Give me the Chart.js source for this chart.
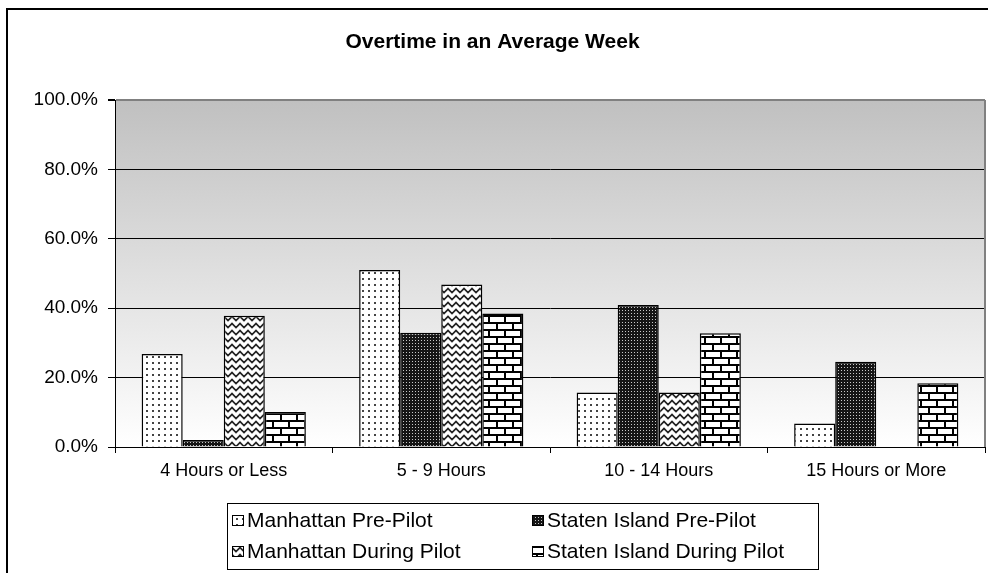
<!DOCTYPE html>
<html>
<head>
<meta charset="utf-8">
<script src="https://cdn.jsdelivr.net/npm/chart.js@4.4.1/dist/chart.umd.min.js"></script>
<style>
  html, body { margin: 0; padding: 0; background: #fff; }
  #wrap { width: 988px; height: 573px; position: relative; }
</style>
</head>
<body>
<div id="wrap"><canvas id="chart" width="988" height="573"></canvas></div>
<script>
// ---- data ----
const categories = ['4 Hours or Less', '5 - 9 Hours', '10 - 14 Hours', '15 Hours or More'];
const seriesNames = ['Manhattan Pre-Pilot', 'Staten Island Pre-Pilot', 'Manhattan During Pilot', 'Staten Island During Pilot'];
const manhattanPre = [26.8, 51.0, 15.7, 6.8];
const statenPre = [2.0, 32.9, 40.9, 24.6];
const manhattanDuring = [37.8, 46.8, 15.7, 0];
const statenDuring = [10.1, 38.5, 32.8, 18.4];
const yTicks = [0, 20, 40, 60, 80, 100];

const FONT = '"Liberation Sans", Arial, sans-serif';

// ---- 填充圖樣 ----
function makeTile(w, h, draw) {
    const c = document.createElement('canvas');
    c.width = w; c.height = h;
    const g = c.getContext('2d');
    draw(g);
    return document.getElementById('chart').getContext('2d').createPattern(c, 'repeat');
}

const dotPattern = makeTile(6, 6, g => {
    g.fillStyle = '#fff'; g.fillRect(0, 0, 6, 6);
    g.fillStyle = '#444'; g.fillRect(2, 2, 2, 2);
});
const checkPattern = makeTile(3, 3, g => {
    g.fillStyle = '#151515'; g.fillRect(0, 0, 3, 3);
    g.fillStyle = '#c8c8c8'; g.fillRect(1, 1, 1, 1);
});
const wavePattern = makeTile(8, 7, g => {
    g.fillStyle = '#fff'; g.fillRect(0, 0, 8, 7);
    g.strokeStyle = '#222'; g.lineWidth = 1.6;
    g.beginPath();
    g.moveTo(-4, 5.5); g.lineTo(0, 1.5); g.lineTo(4, 5.5); g.lineTo(8, 1.5); g.lineTo(12, 5.5);
    g.stroke();
});
const brickPattern = makeTile(16, 14, g => {
    g.fillStyle = '#fff'; g.fillRect(0, 0, 16, 14);
    g.fillStyle = '#000';
    g.fillRect(0, 0, 16, 2);
    g.fillRect(0, 7, 16, 2);
    g.fillRect(0, 0, 2, 7);
    g.fillRect(8, 7, 2, 7);
});
const patterns = [dotPattern, checkPattern, wavePattern, brickPattern];
const seriesValues = [manhattanPre, statenPre, manhattanDuring, statenDuring];

// ---- 背景漸層、外框、圖例 ----
const decorPlugin = {
    id: 'decor',
    beforeDraw(chart) {
        const { ctx, chartArea: a } = chart;
        ctx.save();
        const grad = ctx.createLinearGradient(0, a.top, 0, a.bottom);
        grad.addColorStop(0, '#c0c0c0');
        grad.addColorStop(1, '#ffffff');
        ctx.fillStyle = grad;
        ctx.fillRect(a.left, a.top, a.right - a.left, a.bottom - a.top);
        ctx.restore();
    },
    afterDraw(chart) {
        const { ctx, chartArea: a } = chart;
        ctx.save();
        // 繪圖區右側灰邊
        ctx.strokeStyle = '#808080';
        ctx.lineWidth = 2;
        ctx.beginPath();
        ctx.moveTo(a.right, a.top);
        ctx.lineTo(a.right, a.bottom);
        ctx.stroke();
        // 外框
        ctx.strokeStyle = '#000';
        ctx.lineWidth = 2;
        ctx.strokeRect(7, 9, 1100, 700);
        // 圖例
        ctx.lineWidth = 1;
        ctx.strokeStyle = '#000';
        ctx.strokeRect(227.5, 503.5, 591, 66);
        ctx.font = '21px ' + FONT;
        ctx.textBaseline = 'middle';
        chart.data.datasets.forEach((ds, i) => {
            const x = 232 + (i % 2) * 300;
            const y = 520 + Math.floor(i / 2) * 31;
            ctx.fillStyle = ds.backgroundColor;
            ctx.fillRect(x, y - 5, 11, 10);
            ctx.strokeStyle = '#000';
            ctx.strokeRect(x + 0.5, y - 4.5, 11, 10);
            ctx.fillStyle = '#000';
            ctx.fillText(ds.label, x + 15, y + 1);
        });
        ctx.restore();
    }
};

const ctx = document.getElementById('chart').getContext('2d');
new Chart(ctx, {
    type: 'bar',
    data: {
        labels: categories,
        datasets: seriesNames.map((name, i) => ({
            label: name,
            data: seriesValues[i],
            backgroundColor: patterns[i],
            borderColor: '#000',
            borderWidth: 1.5,
            categoryPercentage: 0.755,
            barPercentage: 1.0
        }))
    },
    options: {
        responsive: false,
        animation: false,
        layout: { padding: { left: 0, right: 3, top: 0, bottom: 86 } },
        plugins: {
            legend: { display: false },
            tooltip: { enabled: false },
            title: {
                display: true,
                text: 'Overtime in an Average Week',
                color: '#000',
                font: { family: FONT, size: 21, weight: 'bold', lineHeight: 1.2 },
                padding: { top: 30, bottom: 44.8 }
            }
        },
        scales: {
            x: {
                afterFit(scale) { scale.height = 40; },
                grid: { offset: true, drawOnChartArea: false, drawTicks: true, tickLength: 6, color: '#000' },
                border: { color: '#000', width: 1 },
                ticks: {
                    color: '#000',
                    maxRotation: 0,
                    padding: 7,
                    font: { family: FONT, size: 18 }
                }
            },
            y: {
                min: 0,
                max: 100,
                afterFit(scale) { scale.width = 115; },
                afterBuildTicks(scale) { scale.ticks = yTicks.map(v => ({ value: v })); },
                grid: {
                    color: c => (c.tick && c.tick.value === 100 ? '#808080' : '#000'),
                    lineWidth: c => (c.tick && c.tick.value === 100 ? 2 : 1),
                    tickColor: '#000',
                    tickLength: 7
                },
                border: { color: '#000', width: 1 },
                ticks: {
                    color: '#000',
                    padding: 10,
                    font: { family: FONT, size: 19 },
                    callback: v => v.toFixed(1) + '%'
                }
            }
        }
    },
    plugins: [decorPlugin]
});
</script>
</body>
</html>
